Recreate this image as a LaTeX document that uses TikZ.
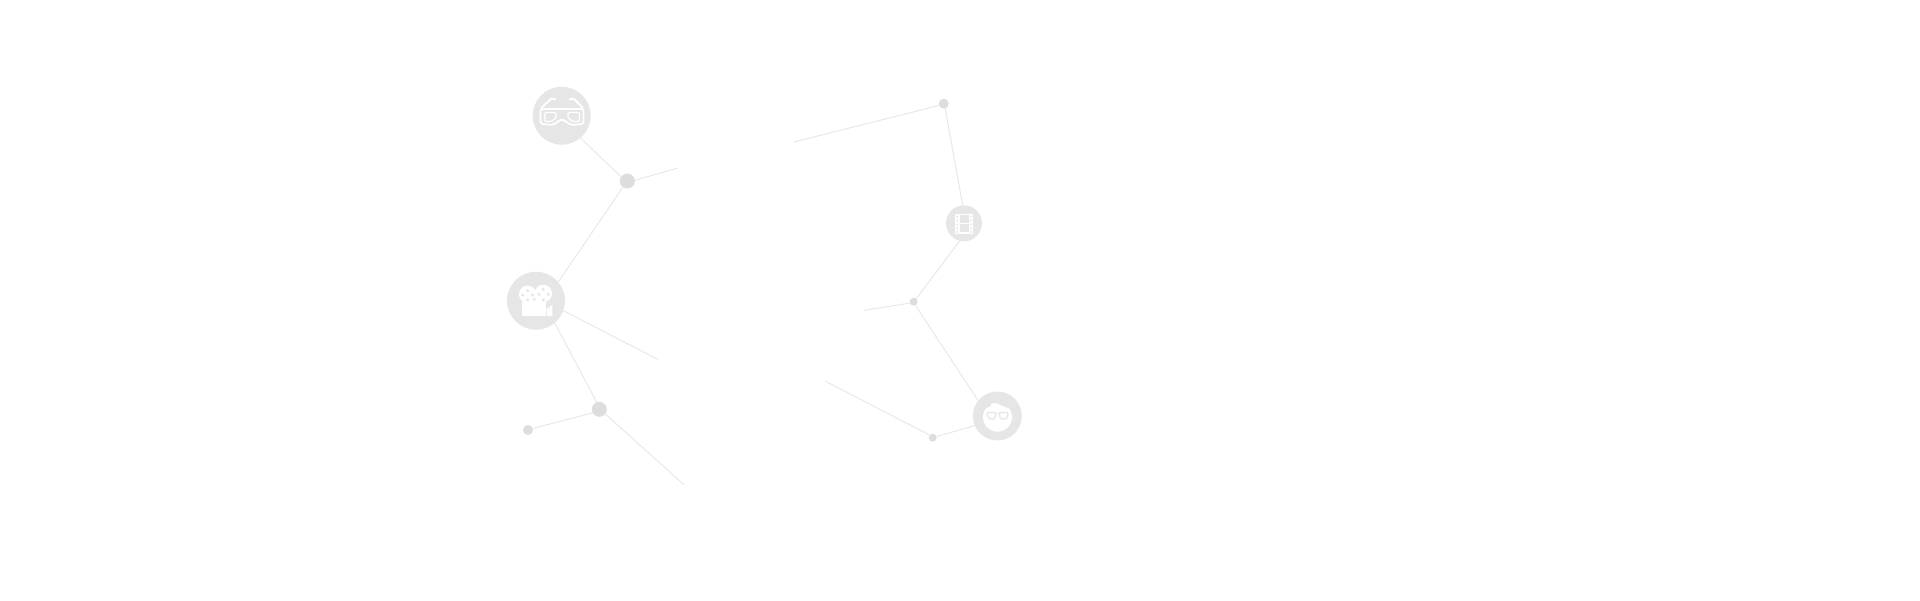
\documentclass[tikz,border=0pt]{standalone}
\usepackage{tikz}
\definecolor{hubgray}{HTML}{E6E6E6}
\definecolor{dotgray}{HTML}{DDDDDD}
\definecolor{linkgray}{HTML}{E8E8E8}
\tikzset{
  hub/.style={circle,fill=hubgray,inner sep=0pt,minimum size=#1},
  dot/.style={circle,fill=dotgray,inner sep=0pt,minimum size=#1},
  link/.style={draw=linkgray,line width=1pt},
  glyph/.style={draw=white,line width=1.8pt,fill=none},
  glyphfill/.style={fill=white,draw=none}
}
\begin{document}
\begin{tikzpicture}[x=1pt,y=-1pt]
  \useasboundingbox (0,0) rectangle (1920,600);
  \coordinate (endA) at (678,168);
  \coordinate (endB) at (657.7,359.3);
  \coordinate (endC) at (684.3,485);
  \coordinate (endD) at (794,142);
  \coordinate (endE) at (864,310.3);
  \coordinate (endF) at (825,381);
  \node[hub=58pt] (glasses) at (561.7,115.7) {};
  \node[hub=58pt] (camera) at (536,300.7) {};
  \node[hub=36pt] (film) at (964,223.3) {};
  \node[hub=49pt] (nerd) at (997.3,416) {};
  \node[dot=15pt] (dotA) at (627.3,181) {};
  \node[dot=15pt] (dotB) at (599.3,409.3) {};
  \node[dot=10pt] (dotC) at (528,430) {};
  \node[dot=10pt] (dotD) at (943.7,103.7) {};
  \node[dot=8pt] (dotE) at (913.7,301.7) {};
  \node[dot=8pt] (dotF) at (932.7,437.7) {};

  \draw[link] (glasses.310) -- (dotA.146);
  \draw[link] (dotA.5) -- (endA);
  \draw[link] (dotA.234) -- (camera.40);
  \draw[link] (camera.340) -- (endB);
  \draw[link] (camera.310) -- (dotB.110);
  \draw[link] (dotB.208) -- (dotC.18);
  \draw[link] (dotB.322) -- (endC);
  \draw[link] (dotD.200) -- (endD);
  \draw[link] (dotD.286) -- (film.94);
  \draw[link] (film.256) -- (dotE.49);
  \draw[link] (dotE.199) -- (endE);
  \draw[link] (dotE.295) -- (nerd.141);
  \draw[link] (nerd.203) -- (dotF.17);
  \draw[link] (dotF.140) -- (endF);

  % glasses icon
  \draw[glyph,rounded corners=2pt] (540.5,124) -- (540.5,109) -- (583.5,109) -- (583.5,124) -- (571,125) -- (562,119) -- (553,125) -- cycle;
  \draw[glyph,line width=1.2pt,rounded corners=1pt] (545,112.5) -- (556,112.5) -- (556,118) -- (551,121.5) -- (545,121.5) -- cycle;
  \draw[glyph,line width=1.2pt,rounded corners=1pt] (568,112.5) -- (579.5,112.5) -- (579.5,121.5) -- (573,121.5) -- (568,118) -- cycle;
  \draw[glyph] (541,108) -- (551.5,98.5) -- (556,99.5);
  \draw[glyph] (583,108) -- (573.5,98.5) -- (569,99.5);

  % camera icon
  \path[glyphfill] (527.7,294.3) circle (8.7);
  \path[glyphfill] (543.3,293.5) circle (8.7);
  \path[glyphfill] (527,296) rectangle (544,303);
  \path[glyphfill] (522.3,301.5) rectangle (545.7,316);
  \path[glyphfill] (546.7,309) -- (552.3,305) -- (552.3,316) -- (548,316) -- (546.7,314) -- cycle;
  \foreach \cx/\cy in {527.7/290.7,522.7/295,532.3/295,527.7/300,539/294.3,543.3/289.3,548.3/294.3,543.3/300,534.3/299.3}
    \path[fill=hubgray] (\cx,\cy) circle (1.7);

  % film icon
  \draw[glyph,line width=1.2pt] (955.5,214.5) rectangle (972.5,233);
  \path[glyphfill] (955,214) rectangle (959.5,233.5);
  \path[glyphfill] (968.5,214) rectangle (973,233.5);
  \draw[glyph,line width=1.4pt] (959.5,223.7) -- (968.5,223.7);
  \foreach \cy in {216.5,220.5,224.5,228.5,232} {
    \path[fill=hubgray] (957.2,\cy) circle (1);
    \path[fill=hubgray] (970.8,\cy) circle (1);
  }

  % nerd icon
  \path[glyphfill] (997.5,417.2) circle (14.5);
  \path[fill=hubgray] (991.7,401.2) -- (1008.5,408.3) -- (1014,402) -- (992,398) -- cycle;
  \path[fill=hubgray] (983,405) -- (991.7,401.2) -- (990.7,406) -- (983.5,409.5) -- cycle;
  \draw[draw=hubgray,line width=1.3pt,rounded corners=1.5pt] (986.5,412.5) -- (996,412.5) -- (995,419) -- (989,419) -- cycle;
  \draw[draw=hubgray,line width=1.3pt,rounded corners=1.5pt] (999,412.5) -- (1008.5,412.5) -- (1006.5,419) -- (1000.5,419) -- cycle;
  \draw[draw=hubgray,line width=1pt] (996,413.5) -- (999,413.5);
\end{tikzpicture}
\end{document}
